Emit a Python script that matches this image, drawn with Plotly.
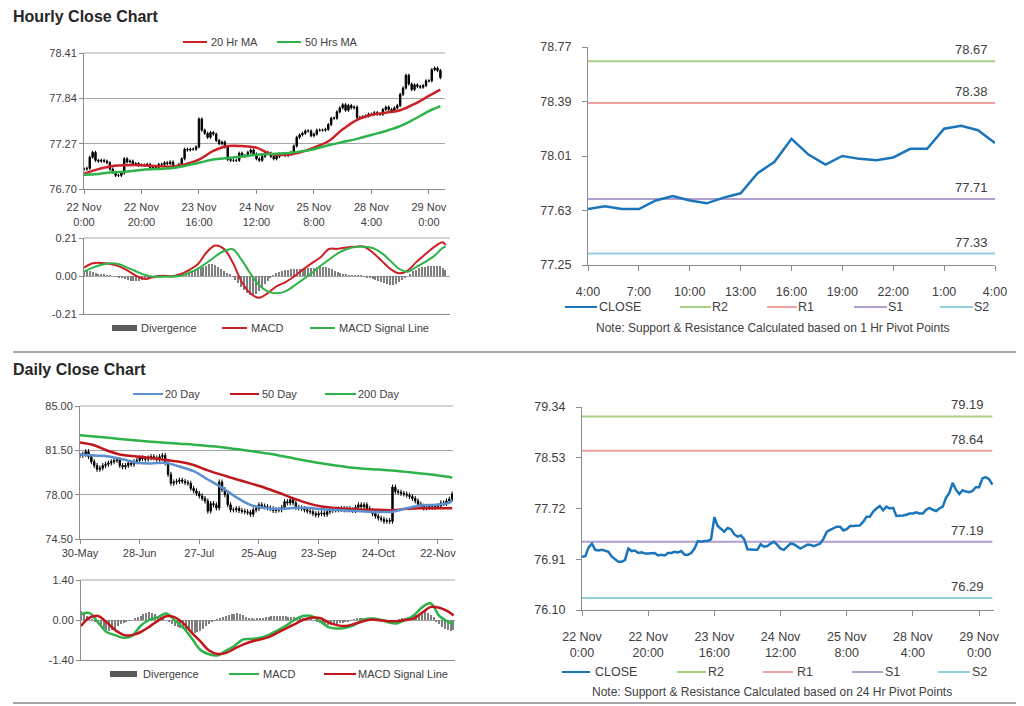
import pandas as pd
import plotly.graph_objects as go

# the page body has an 8px margin, so the figure is sized to fill the rest of the window
OFF = 8
W, H = 1024 - OFF, 706 - OFF
FONT = "Liberation Sans, Arial, sans-serif"
TXT = "#404040"
AX = "#8c8c8c"
GRID = "#a6a6a6"

# ---------------- data ----------------
# hourly closes, 22 Nov 0:00 .. 29 Nov 4:00 (weekdays only)
hourly_close = [
    76.95, 76.96, 77.10, 77.16, 77.06, 77.05, 77.06, 77.05, 77.03, 76.95,
    76.91, 76.87, 76.87, 76.90, 77.08, 77.04, 77.05, 77.01, 77.02, 77.00,
    77.00, 77.00, 77.01, 76.97, 76.98, 76.97, 77.01, 77.01, 77.03, 77.02,
    77.04, 76.98, 76.98, 77.01, 77.08, 77.20, 77.19, 77.20, 77.20, 77.23,
    77.58, 77.44, 77.40, 77.35, 77.41, 77.39, 77.31, 77.27, 77.29, 77.23,
    77.07, 77.06, 77.06, 77.06, 77.15, 77.11, 77.12, 77.16, 77.19, 77.14,
    77.08, 77.06, 77.11, 77.16, 77.15, 77.11, 77.08, 77.11, 77.14, 77.14,
    77.12, 77.14, 77.16, 77.24, 77.35, 77.38, 77.40, 77.43, 77.43, 77.37,
    77.39, 77.44, 77.44, 77.44, 77.45, 77.51, 77.59, 77.59, 77.67, 77.72,
    77.76, 77.69, 77.75, 77.72, 77.73, 77.60, 77.60, 77.61, 77.62, 77.64,
    77.64, 77.66, 77.64, 77.64, 77.70, 77.73, 77.70, 77.68, 77.72, 77.75,
    77.89, 77.97, 78.13, 78.02, 77.95, 78.01, 77.99, 77.98, 78.00, 78.06,
    78.06, 78.20, 78.22, 78.19, 78.10,
]
hourly_wick = 0.02

# moving averages sampled every 5 hours (plus last hour)
hourly_ma20 = [76.89, 76.95, 76.99, 77.00, 77.00, 76.99, 76.98, 77.01, 77.07, 77.18,
               77.24, 77.24, 77.22, 77.14, 77.13, 77.16, 77.22, 77.30, 77.45, 77.57,
               77.63, 77.66, 77.69, 77.77, 77.87, 77.95]
hourly_ma50 = [76.88, 76.89, 76.91, 76.92, 76.94, 76.95, 76.96, 76.99, 77.03, 77.07,
               77.09, 77.11, 77.13, 77.14, 77.15, 77.17, 77.20, 77.25, 77.29, 77.33,
               77.38, 77.43, 77.49, 77.58, 77.68, 77.74]

# MACD sampled every 3 hours (plus last hour)
hourly_macd = [0.046, 0.070, 0.072, 0.066, 0.053, 0.030, 0.000, -0.017, -0.005, 0.002,
               -0.003, 0.010, 0.033, 0.065, 0.130, 0.168, 0.150, 0.075, -0.030, -0.095,
               -0.120, -0.095, -0.057, -0.035, -0.003, 0.035, 0.070, 0.102, 0.149, 0.150,
               0.158, 0.162, 0.162, 0.130, 0.085, 0.040, 0.015, 0.030, 0.078, 0.120,
               0.160, 0.186, 0.170]
hourly_signal = [0.024, 0.046, 0.062, 0.070, 0.065, 0.045, 0.025, 0.006, -0.004, -0.004,
                 -0.003, 0.000, 0.018, 0.040, 0.072, 0.108, 0.138, 0.148, 0.090, 0.015,
                 -0.050, -0.085, -0.096, -0.085, -0.055, -0.020, 0.015, 0.055, 0.090, 0.125,
                 0.148, 0.160, 0.162, 0.155, 0.128, 0.085, 0.040, 0.024, 0.050, 0.078,
                 0.110, 0.155, 0.162]
hourly_div = [
    0.025, 0.030, 0.028, 0.022, 0.015,
    0.010, 0.008, 0.006, 0.005, 0.003,
    0.000, -0.003,
    -0.008, -0.012, -0.018, -0.022, -0.026, -0.030, -0.030, -0.028, -0.024,
    -0.018, -0.012, -0.006, -0.002,
    0.002, 0.003, 0.004, 0.002, 0.001, 0.003, 0.004, 0.006, 0.010,
    0.012, 0.016, 0.020, 0.025, 0.030, 0.036, 0.042, 0.050, 0.058, 0.064, 0.065,
    0.060, 0.050, 0.040, 0.030, 0.018, 0.008,
    -0.005, -0.020, -0.040,
    -0.060, -0.080, -0.095, -0.105, -0.110,
    -0.100, -0.085, -0.065, -0.045, -0.025,
    -0.010, 0.005,
    0.015, 0.022, 0.028, 0.032, 0.035, 0.036, 0.037, 0.036, 0.038, 0.040, 0.042,
    0.044, 0.045, 0.046, 0.048, 0.050, 0.050, 0.048, 0.044, 0.038, 0.030,
    0.022, 0.015, 0.010, 0.007, 0.005, 0.005, 0.004, 0.003, 0.002,
    -0.002, -0.006, -0.010, -0.015, -0.020, -0.026, -0.032, -0.038, -0.044, -0.048,
    -0.050, -0.045, -0.035,
    -0.022, -0.010, 0.000,
    0.012, 0.025, 0.035, 0.042, 0.048, 0.052, 0.055, 0.056, 0.057, 0.056, 0.054, 0.045, 0.035,
]

# pivot levels
h_piv_names = ["R2", "R1", "S1", "S2"]
h_piv_values = [78.67, 78.38, 77.71, 77.33]
d_piv_values = [79.19, 78.64, 77.19, 76.29]

# daily closes 30 May .. 29 Nov (business days)
daily_close = [
    81.10, 81.20, 81.40, 81.00, 80.60, 80.30, 80.00, 80.10, 80.30, 80.40,
    80.50, 80.60, 80.70, 80.75, 80.30, 80.20, 80.30, 80.50, 80.40, 80.60,
    80.70, 80.90, 80.85, 80.80, 80.90, 81.00, 80.90, 80.80, 81.00, 81.10,
    80.50, 79.60, 78.90, 79.00, 79.05, 79.15, 79.05, 78.95, 78.90, 78.50,
    78.30, 78.10, 77.90, 77.70, 77.50, 76.70, 77.30, 77.20, 76.95, 79.00,
    78.40, 78.00, 77.20, 76.80, 76.80, 76.90, 76.75, 76.70, 76.65, 76.60,
    76.45, 76.80, 76.90, 77.20, 77.10, 77.05, 76.95, 76.90, 76.75, 76.80,
    76.80, 77.00, 77.45, 77.35, 77.60, 77.35, 77.00, 76.95, 76.90, 76.80,
    76.70, 76.65, 76.50, 76.40, 76.50, 76.55, 76.45, 76.65, 76.75, 76.80,
    76.80, 76.85, 76.90, 76.80, 76.90, 76.80, 76.75, 77.00, 77.20, 77.05,
    77.20, 76.90, 76.75, 76.50, 76.30, 76.15, 76.05, 75.90, 75.95, 75.90,
    78.60, 78.25, 78.20, 78.10, 78.05, 77.95, 77.85, 77.70, 77.50, 77.25,
    77.10, 76.95, 77.00, 77.05, 77.00, 77.05, 77.10, 77.35, 77.30, 77.50,
    77.65, 78.05,
]
daily_wick = 0.2

# daily moving averages sampled every 5 days (plus last day)
daily_ma20 = [81.18, 81.10, 81.02, 80.80, 80.52, 80.47, 80.52, 80.22, 79.85, 79.20,
              78.55, 77.80, 77.20, 76.95, 76.88, 76.95, 76.97, 76.84, 76.79, 76.73,
              76.68, 76.63, 76.66, 76.93, 77.14, 77.20, 77.35, 77.55]
daily_ma50 = [82.12, 81.90, 81.45, 81.13, 81.02, 80.90, 80.75, 80.60, 80.34, 79.92,
              79.56, 79.22, 78.89, 78.55, 78.15, 77.72, 77.33, 77.06, 76.95, 76.87,
              76.81, 76.80, 76.78, 76.88, 76.93, 76.93, 76.93, 76.93]
daily_ma200 = [82.70, 82.60, 82.50, 82.38, 82.28, 82.18, 82.10, 82.02, 81.95, 81.85,
               81.75, 81.60, 81.45, 81.28, 81.10, 80.88, 80.65, 80.48, 80.30, 80.15,
               80.05, 79.98, 79.90, 79.80, 79.68, 79.55, 79.40, 79.34]

# daily MACD sampled every 3 days (plus last day)
daily_macd = [0.20, 0.24, -0.08, -0.42, -0.53, -0.62, -0.55, -0.20, 0.00, 0.10,
              0.23, -0.02, -0.27, -0.65, -1.05, -1.20, -1.24, -1.07, -0.90, -0.68,
              -0.66, -0.62, -0.52, -0.37, -0.20, 0.00, 0.14, 0.14, -0.04, -0.25,
              -0.30, -0.27, -0.18, 0.00, 0.05, 0.02, -0.08, -0.12, 0.00, 0.16,
              0.45, 0.58, 0.14, -0.06, -0.15]
daily_signal = [-0.21, 0.08, 0.14, -0.08, -0.35, -0.52, -0.53, -0.42, -0.24, -0.03,
                0.13, 0.09, -0.12, -0.45, -0.75, -1.07, -1.19, -1.15, -1.00, -0.86,
                -0.75, -0.68, -0.60, -0.45, -0.30, -0.15, 0.00, 0.08, 0.07, -0.08,
                -0.18, -0.21, -0.14, -0.05, 0.02, -0.01, -0.04, -0.04, 0.00, 0.06,
                0.26, 0.46, 0.43, 0.30, 0.16]
daily_div = [
    0.30, 0.28, 0.15,
    0.10, 0.02, -0.05,
    -0.12, -0.20, -0.28, -0.35, -0.38, -0.35, -0.30, -0.22,
    -0.15, -0.10, -0.06, -0.03, 0.00,
    0.05, 0.10, 0.15, 0.20,
    0.25, 0.28, 0.26, 0.22, 0.15,
    0.10, 0.05, 0.00,
    -0.08, -0.15, -0.20, -0.25, -0.28, -0.32, -0.36,
    -0.40, -0.43, -0.45, -0.42, -0.38, -0.30, -0.22, -0.15, -0.08,
    -0.03, 0.03, 0.08,
    0.12, 0.15, 0.18, 0.20, 0.22, 0.25, 0.22, 0.18, 0.12,
    0.08, 0.04, 0.03, 0.04, 0.05,
    0.08, 0.10, 0.12, 0.13, 0.14, 0.15, 0.15, 0.14, 0.13, 0.12, 0.10, 0.10, 0.08, 0.06,
    0.05, 0.04, 0.03, 0.01, -0.02,
    -0.06, -0.10, -0.13, -0.15, -0.17, -0.18, -0.18, -0.15, -0.12, -0.10, -0.08, -0.05,
    -0.02, 0.02, 0.05, 0.07, 0.08, 0.08, 0.06, 0.04, 0.02,
    0.00, -0.01, -0.02, -0.03, -0.04, -0.03, -0.02, -0.01,
    0.02, 0.05, 0.08, 0.10, 0.12, 0.15, 0.18, 0.22, 0.25, 0.28, 0.25, 0.18, 0.10,
    -0.05, -0.15, -0.25, -0.32, -0.36, -0.38, -0.35,
]

# axis tick values
h_yticks = [76.70, 77.27, 77.84, 78.41]
h_macd_ticks = [-0.21, 0.00, 0.21]
hp_yticks = [77.25, 77.63, 78.01, 78.39, 78.77]
d_yticks = [74.50, 78.00, 81.50, 85.00]
d_macd_ticks = [-1.40, 0.00, 1.40]
dp_yticks = [76.10, 76.91, 77.72, 78.53, 79.34]

# ---------------- categories ----------------
hour_ts = pd.date_range("2016-11-22 00:00", "2016-11-29 04:00", freq="h")
hour_ts = hour_ts[hour_ts.dayofweek < 5]
hour_lbl = [f"{t.day} {t:%b} {t.hour}:00" for t in hour_ts]
day_ts = pd.bdate_range("2016-05-30", "2016-11-29")
day_lbl = [f"{t:%d-%b}" for t in day_ts]

RED = "#cc2127"
DRED = "#c0171c"
GREEN = "#2db34a"
BLUE_MA = "#5b8fd0"
CLOSE_BLUE = "#1b75bb"
PIV_COLORS = ["#a9cf84", "#eea2a2", "#b09fd0", "#92cfe0"]


def sample_idx(n, step):
    idx = list(range(0, n, step))
    if idx[-1] != n - 1:
        idx.append(n - 1)
    return idx


def make_ohlc(close, wick):
    op = [close[0]] + close[:-1]
    hi = [max(o, c) + wick for o, c in zip(op, close)]
    lo = [min(o, c) - wick for o, c in zip(op, close)]
    return op, hi, lo, close


# window pixel -> paper coordinates
def px(x):
    return (x - OFF) / W


def py(y):
    return 1 - (y - OFF) / H


def xdom(a, b):
    return [px(a), px(b)]


def ydom(top, bot):
    return [py(bot), py(top)]


def base_axis(**kw):
    d = dict(showline=True, linecolor=AX, linewidth=1, ticks="outside", ticklen=4,
             tickcolor=AX, tickfont=dict(size=11, color=TXT, family=FONT),
             showgrid=False, zeroline=False, fixedrange=True, automargin=False)
    d.update(kw)
    return d


fig = go.Figure()
shapes, annotations = [], []

# ---------- panel 1: hourly candles ----------
o, hi, lo, c = make_ohlc(hourly_close, hourly_wick)
candle_style = dict(line=dict(color="black", width=1), fillcolor="black")
fig.add_trace(go.Candlestick(x=hour_lbl, open=o, high=hi, low=lo, close=c,
                             increasing=candle_style, decreasing=candle_style,
                             whiskerwidth=0, xaxis="x", yaxis="y", name="Hourly"))
hi5 = sample_idx(len(hour_lbl), 5)
fig.add_trace(go.Scatter(x=[hour_lbl[i] for i in hi5], y=hourly_ma20, mode="lines",
                         line=dict(color=RED, width=2.5, shape="spline"),
                         xaxis="x", yaxis="y", name="20 Hr MA"))
fig.add_trace(go.Scatter(x=[hour_lbl[i] for i in hi5], y=hourly_ma50, mode="lines",
                         line=dict(color=GREEN, width=2.5, shape="spline"),
                         xaxis="x", yaxis="y", name="50 Hrs MA"))

# ---------- panel 2: hourly MACD ----------
fig.add_trace(go.Bar(x=hour_lbl[:len(hourly_div)], y=hourly_div, width=0.45,
                     marker=dict(color="#7f7f7f", line=dict(width=0)),
                     xaxis="x2", yaxis="y2", name="Divergence"))
hi3 = sample_idx(len(hour_lbl), 3)
fig.add_trace(go.Scatter(x=[hour_lbl[i] for i in hi3], y=hourly_macd, mode="lines",
                         line=dict(color=RED, width=2, shape="spline"),
                         xaxis="x2", yaxis="y2", name="MACD"))
fig.add_trace(go.Scatter(x=[hour_lbl[i] for i in hi3], y=hourly_signal, mode="lines",
                         line=dict(color=GREEN, width=2, shape="spline"),
                         xaxis="x2", yaxis="y2", name="MACD Signal Line"))

# ---------- panel 3: hourly pivots (last 24 hours) ----------
piv_lbl = hour_lbl[-25:]
piv_close = hourly_close[-25:]
for name, val, col in zip(h_piv_names, h_piv_values, PIV_COLORS):
    fig.add_trace(go.Scatter(x=[piv_lbl[0], piv_lbl[-1]], y=[val, val], mode="lines",
                             line=dict(color=col, width=2), xaxis="x3", yaxis="y3", name=name))
    annotations.append(dict(text=f"{val:.2f}", xref="paper", yref="y3", x=px(990), y=val,
                            xanchor="right", yanchor="bottom", yshift=2, showarrow=False,
                            font=dict(size=13, color=TXT, family=FONT)))
fig.add_trace(go.Scatter(x=piv_lbl, y=piv_close, mode="lines",
                         line=dict(color=CLOSE_BLUE, width=2.5),
                         xaxis="x3", yaxis="y3", name="CLOSE"))

# ---------- panel 4: daily candles ----------
o, hi, lo, c = make_ohlc(daily_close, daily_wick)
fig.add_trace(go.Candlestick(x=day_lbl, open=o, high=hi, low=lo, close=c,
                             increasing=candle_style, decreasing=candle_style,
                             whiskerwidth=0, xaxis="x4", yaxis="y4", name="Daily"))
di5 = sample_idx(len(day_lbl), 5)
for vals, col, nm in [(daily_ma200, GREEN, "200 Day"), (daily_ma50, DRED, "50 Day"),
                      (daily_ma20, BLUE_MA, "20 Day")]:
    fig.add_trace(go.Scatter(x=[day_lbl[i] for i in di5], y=vals, mode="lines",
                             line=dict(color=col, width=2.5, shape="spline"),
                             xaxis="x4", yaxis="y4", name=nm))

# ---------- panel 5: daily MACD ----------
fig.add_trace(go.Bar(x=day_lbl[:len(daily_div)], y=daily_div, width=0.45,
                     marker=dict(color="#7f7f7f", line=dict(width=0)),
                     xaxis="x5", yaxis="y5", name="Divergence"))
di3 = sample_idx(len(day_lbl), 3)
fig.add_trace(go.Scatter(x=[day_lbl[i] for i in di3], y=daily_macd, mode="lines",
                         line=dict(color=GREEN, width=2.5, shape="spline"),
                         xaxis="x5", yaxis="y5", name="MACD"))
fig.add_trace(go.Scatter(x=[day_lbl[i] for i in di3], y=daily_signal, mode="lines",
                         line=dict(color=DRED, width=2.5, shape="spline"),
                         xaxis="x5", yaxis="y5", name="MACD Signal Line"))

# ---------- panel 6: daily pivots on hourly close ----------
for name, val, col in zip(h_piv_names, d_piv_values, PIV_COLORS):
    fig.add_trace(go.Scatter(x=[hour_lbl[0], hour_lbl[-1]], y=[val, val], mode="lines",
                             line=dict(color=col, width=2), xaxis="x6", yaxis="y6", name=name))
    annotations.append(dict(text=f"{val:.2f}", xref="paper", yref="y6", x=px(986), y=val,
                            xanchor="right", yanchor="bottom", yshift=2, showarrow=False,
                            font=dict(size=13, color=TXT, family=FONT)))
fig.add_trace(go.Scatter(x=hour_lbl, y=hourly_close, mode="lines",
                         line=dict(color=CLOSE_BLUE, width=2.5),
                         xaxis="x6", yaxis="y6", name="CLOSE"))

# ---------------- axes ----------------
hour_ticks = hour_lbl[::20]
hour_ticktext = [f"{t.day} {t:%b}<br>{t.hour}:00" for t in hour_ts[::20]]
piv_ticks = piv_lbl[::3]
piv_ticktext = [f"{t.hour}:00" for t in hour_ts[-25:][::3]]
day_ticks = day_lbl[::21]


def fmt(v):
    return [f"{x:.2f}" for x in v]


def cat(arr):
    return dict(type="category", categoryorder="array", categoryarray=arr)


PIVF = dict(size=12.5, color=TXT, family=FONT)

layout_axes = dict(
    xaxis=base_axis(domain=xdom(84, 445), anchor="y", **cat(hour_lbl), range=[0, 125.6],
                    tickmode="array", tickvals=hour_ticks, ticktext=hour_ticktext,
                    rangeslider=dict(visible=False), ticklabelstandoff=4),
    yaxis=base_axis(domain=ydom(53, 189), anchor="x", range=[76.70, 78.41],
                    tickmode="array", tickvals=h_yticks, ticktext=fmt(h_yticks),
                    showgrid=True, gridcolor=GRID, gridwidth=1),
    xaxis2=base_axis(domain=xdom(84, 450), anchor="y2", **cat(hour_lbl), range=[0, 125.5],
                     showticklabels=False, ticks=""),
    yaxis2=base_axis(domain=ydom(238, 314), anchor="x2", range=[-0.21, 0.21],
                     tickmode="array", tickvals=h_macd_ticks, ticktext=fmt(h_macd_ticks),
                     showgrid=True, gridcolor=GRID, gridwidth=1),
    xaxis3=base_axis(domain=xdom(588, 995), anchor="y3", **cat(piv_lbl), range=[0, 24],
                     tickmode="array", tickvals=piv_ticks, ticktext=piv_ticktext,
                     tickfont=PIVF, ticklen=5, ticklabelstandoff=10),
    yaxis3=base_axis(domain=ydom(47, 265), anchor="x3", range=[77.25, 78.77],
                     tickmode="array", tickvals=hp_yticks, ticktext=fmt(hp_yticks),
                     tickfont=PIVF, ticklen=5, ticklabelstandoff=8),
    xaxis4=base_axis(domain=xdom(80, 453), anchor="y4", **cat(day_lbl), range=[0, 131.3],
                     tickmode="array", tickvals=day_ticks, ticktext=day_ticks,
                     rangeslider=dict(visible=False)),
    yaxis4=base_axis(domain=ydom(406, 539), anchor="x4", range=[74.50, 85.00],
                     tickmode="array", tickvals=d_yticks, ticktext=fmt(d_yticks),
                     showgrid=True, gridcolor=GRID, gridwidth=1),
    xaxis5=base_axis(domain=xdom(81, 455), anchor="y5", **cat(day_lbl), range=[0, 131.5],
                     showticklabels=False, ticks=""),
    yaxis5=base_axis(domain=ydom(580, 660), anchor="x5", range=[-1.40, 1.40],
                     tickmode="array", tickvals=d_macd_ticks, ticktext=fmt(d_macd_ticks),
                     showgrid=True, gridcolor=GRID, gridwidth=1),
    xaxis6=base_axis(domain=xdom(582, 994), anchor="y6", **cat(hour_lbl), range=[0, 124.5],
                     tickmode="array", tickvals=hour_ticks, ticktext=hour_ticktext,
                     tickfont=PIVF, ticklen=5, ticklabelstandoff=10),
    yaxis6=base_axis(domain=ydom(407, 610), anchor="x6", range=[76.10, 79.34],
                     tickmode="array", tickvals=dp_yticks, ticktext=fmt(dp_yticks),
                     tickfont=PIVF, ticklen=5, ticklabelstandoff=8),
)

# top-edge grid lines of the gridded panels
for x0, x1, y in [(84, 445, 53), (84, 450, 238), (80, 453, 406), (81, 455, 580)]:
    shapes.append(dict(type="line", xref="paper", yref="paper", x0=px(x0), x1=px(x1),
                       y0=py(y), y1=py(y), line=dict(color=GRID, width=1)))

# section separators
for y in (352, 703):
    shapes.append(dict(type="line", xref="paper", yref="paper", x0=px(13), x1=1.0,
                       y0=py(y), y1=py(y), line=dict(color="#a6a6a6", width=2)))

# titles
for text, y in [("Hourly Close Chart", 17), ("Daily Close Chart", 369)]:
    annotations.append(dict(text=f"<b>{text}</b>", xref="paper", yref="paper", x=px(11),
                            y=py(y), xanchor="left", yanchor="middle", showarrow=False,
                            font=dict(size=16, color="#262626", family=FONT)))


# ---------------- legends ----------------
def legend_line(x0, x1, y, color, label, tx, size=11, width=2):
    shapes.append(dict(type="line", xref="paper", yref="paper", x0=px(x0), x1=px(x1),
                       y0=py(y), y1=py(y), line=dict(color=color, width=width)))
    annotations.append(dict(text=label, xref="paper", yref="paper", x=px(tx), y=py(y),
                            xanchor="left", yanchor="middle", showarrow=False,
                            font=dict(size=size, color=TXT, family=FONT)))


def legend_box(x0, x1, y, color, label, tx, size=11):
    shapes.append(dict(type="rect", xref="paper", yref="paper", x0=px(x0), x1=px(x1),
                       y0=py(y + 3), y1=py(y - 3), fillcolor=color, line=dict(width=0)))
    annotations.append(dict(text=label, xref="paper", yref="paper", x=px(tx), y=py(y),
                            xanchor="left", yanchor="middle", showarrow=False,
                            font=dict(size=size, color=TXT, family=FONT)))


legend_line(183, 207, 42, RED, "20 Hr MA", 209)
legend_line(277, 301, 42, GREEN, "50 Hrs MA", 303)

legend_box(112, 137, 328, "#595959", "Divergence", 139)
legend_line(222, 247, 328, RED, "MACD", 249)
legend_line(310, 335, 328, GREEN, "MACD Signal Line", 337)

legend_line(565, 597, 307, CLOSE_BLUE, "CLOSE", 597, size=12.5)
for (x0, x1, tx), nm, col in zip([(680, 711, 710), (767, 797, 796), (854, 887, 886),
                                  (940, 973, 972)], h_piv_names, PIV_COLORS):
    legend_line(x0, x1, 307, col, nm, tx, size=12.5)
annotations.append(dict(text="Note: Support & Resistance Calculated based on 1 Hr Pivot Points",
                        xref="paper", yref="paper", x=px(773), y=py(328), xanchor="center",
                        yanchor="middle", showarrow=False, font=dict(size=12, color=TXT, family=FONT)))

legend_line(133, 163, 394, BLUE_MA, "20 Day", 163)
legend_line(230, 259, 394, DRED, "50 Day", 260)
legend_line(325, 356, 394, GREEN, "200 Day", 356)

legend_box(110, 137, 674, "#595959", "Divergence", 141)
legend_line(229, 259, 674, GREEN, "MACD", 261)
legend_line(324, 356, 674, DRED, "MACD Signal Line", 356)

legend_line(562, 590, 672, CLOSE_BLUE, "CLOSE", 593, size=12.5)
for (x0, x1, tx), nm, col in zip([(677, 706, 706), (763, 793, 795), (852, 883, 883),
                                  (938, 970, 970)], h_piv_names, PIV_COLORS):
    legend_line(x0, x1, 672, col, nm, tx, size=12.5)
annotations.append(dict(text="Note: Support & Resistance Calculated based on 24 Hr Pivot Points",
                        xref="paper", yref="paper", x=px(772), y=py(692), xanchor="center",
                        yanchor="middle", showarrow=False, font=dict(size=12, color=TXT, family=FONT)))

fig.update_layout(
    template="none",
    width=W, height=H, margin=dict(l=0, r=0, t=0, b=0, pad=0, autoexpand=False),
    paper_bgcolor="white", plot_bgcolor="white", showlegend=False,
    font=dict(family=FONT, size=11, color=TXT), bargap=0,
    shapes=shapes, annotations=annotations, **layout_axes,
)

fig.write_html("out.html", config={"displayModeBar": False})
